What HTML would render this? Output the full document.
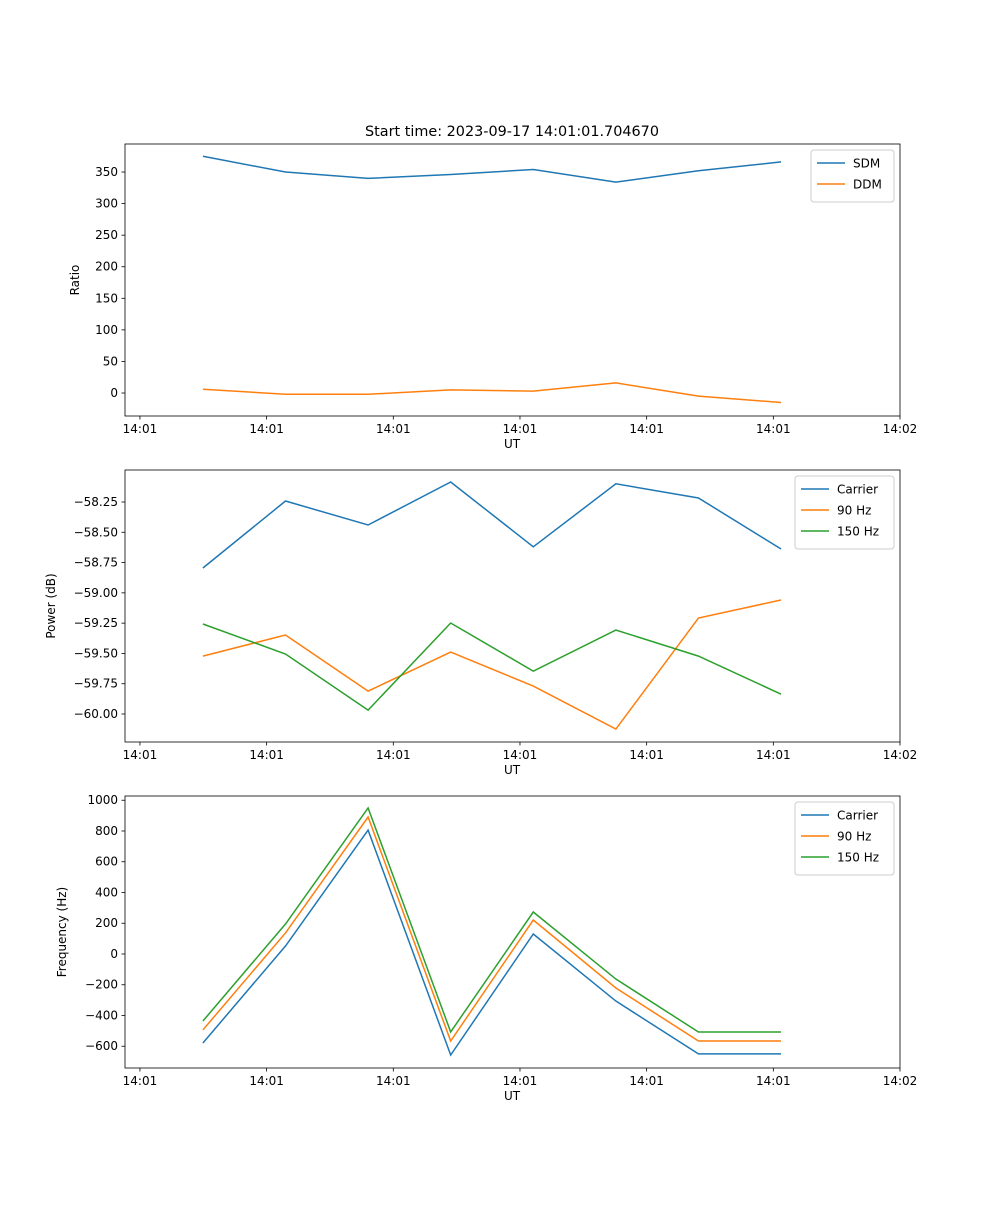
<!DOCTYPE html>
<html><head><meta charset="utf-8"><style>
body{margin:0;background:#fff;font-family:"Liberation Sans","DejaVu Sans",sans-serif}
svg text{font-family:"DejaVu Sans","Liberation Sans",sans-serif;font-size:12px;fill:#000}
</style></head><body>
<svg id="fig" width="1000" height="1200" xmlns="http://www.w3.org/2000/svg">
<text x="512" y="136" text-anchor="middle" style="font-size:14.4px">Start time: 2023-09-17 14:01:01.704670</text>
</svg>
<script>
const xTickLabels=["14:01","14:01","14:01","14:01","14:01","14:01","14:02"];
const xTickVals=[0,1,2,3,4,5,6];
const sampleTimes=[0.497,1.149,1.801,2.453,3.105,3.757,4.409,5.061];
const sdm=[375,350,340,346,354,334,352,366];
const ddm=[6,-2,-2,5,3,16,-5,-15];
const powCarrier=[-58.795,-58.242,-58.44,-58.085,-58.62,-58.10,-58.217,-58.638];
const pow90=[-59.522,-59.348,-59.811,-59.489,-59.769,-60.124,-59.208,-59.059];
const pow150=[-59.257,-59.505,-59.968,-59.249,-59.646,-59.307,-59.522,-59.836];
const frqCarrier=[-579,52,806,-657,130,-306,-650,-650];
const frq90=[-494,137,891,-566,221,-221,-566,-566];
const frq150=[-436,195,950,-507,273,-163,-507,-507];
const ratioTicks=[0,50,100,150,200,250,300,350];
const powerTicks=[-60.00,-59.75,-59.50,-59.25,-59.00,-58.75,-58.50,-58.25];
const freqTicks=[-600,-400,-200,0,200,400,600,800,1000];

const NS="http://www.w3.org/2000/svg";
const svg=document.getElementById('fig');
const L=125,R=900,X0=-0.118,X1=6.0;
const xs=t=>L+(t-X0)/(X1-X0)*(R-L);
function mk(tag,attrs,parent){const e=document.createElementNS(NS,tag);for(const k in attrs)e.setAttribute(k,attrs[k]);(parent||svg).appendChild(e);return e;}
const C=["#1f77b4","#ff7f0e","#2ca02c"];
function panel(name,top,bot,y0,y1,yt,fmt,ylabel,ylx,series,names,legW){
  const g=mk('g',{});
  
  
  const ys=v=>bot-(v-y0)/(y1-y0)*(bot-top);
  series.forEach((s,i)=>{
    const p=mk('polyline',{points:s.map((v,j)=>xs(sampleTimes[j])+','+ys(v)).join(' '),fill:'none',stroke:C[i],'stroke-width':1.5},g);
    
    
  });
  mk('rect',{x:L,y:top,width:R-L,height:bot-top,fill:'none',stroke:'#000','stroke-width':0.8},g);
  xTickVals.forEach((t,i)=>{const x=xs(t);mk('line',{x1:x,x2:x,y1:bot,y2:bot+3.5,stroke:'#000','stroke-width':0.8},g);
    const tx=mk('text',{x:x,y:bot+17,'text-anchor':'middle'},g);tx.textContent=xTickLabels[i];
    
    });
  yt.forEach(v=>{const y=ys(v);mk('line',{x1:L-3.5,x2:L,y1:y,y2:y,stroke:'#000','stroke-width':0.8},g);
    const tx=mk('text',{x:L-7,y:y+4,'text-anchor':'end'},g);tx.textContent=fmt(v);
    
    });
  const xl=mk('text',{x:512,y:bot+32,'text-anchor':'middle'},g);xl.textContent='UT';
  
  
  const cy=(top+bot)/2;
  const yl=mk('text',{x:ylx,y:cy,'text-anchor':'middle',transform:`rotate(-90 ${ylx} ${cy})`},g);yl.textContent=ylabel;
  
  
  const lx=R-6-legW,ly=top+6,lh=10+names.length*21;
  const lg=mk('g',{},g);
  
  
  mk('rect',{x:lx,y:ly,width:legW,height:lh,rx:3,fill:'#fff',stroke:'#ccc','stroke-width':1},lg);
  names.forEach((n,i)=>{const yy=ly+13+i*21;
    mk('line',{x1:lx+6,x2:lx+34,y1:yy,y2:yy,stroke:C[i],'stroke-width':1.5},lg);
    const t=mk('text',{x:lx+42,y:yy+4.5},lg);t.textContent=n;
    
    });
}
panel('ratio',144,416,-36.4,394.4,ratioTicks,v=>String(v),'Ratio',79,[sdm,ddm],['SDM','DDM'],83);
panel('power',470,742,-60.231,-57.986,powerTicks,v=>'\u2212'+Math.abs(v).toFixed(2),'Power (dB)',55,[powCarrier,pow90,pow150],['Carrier','90 Hz','150 Hz'],99);
panel('frequency',796,1068,-741.5,1027.6,freqTicks,v=>v<0?'\u2212'+Math.abs(v):String(v),'Frequency (Hz)',66,[frqCarrier,frq90,frq150],['Carrier','90 Hz','150 Hz'],99);
</script>
</body></html>
